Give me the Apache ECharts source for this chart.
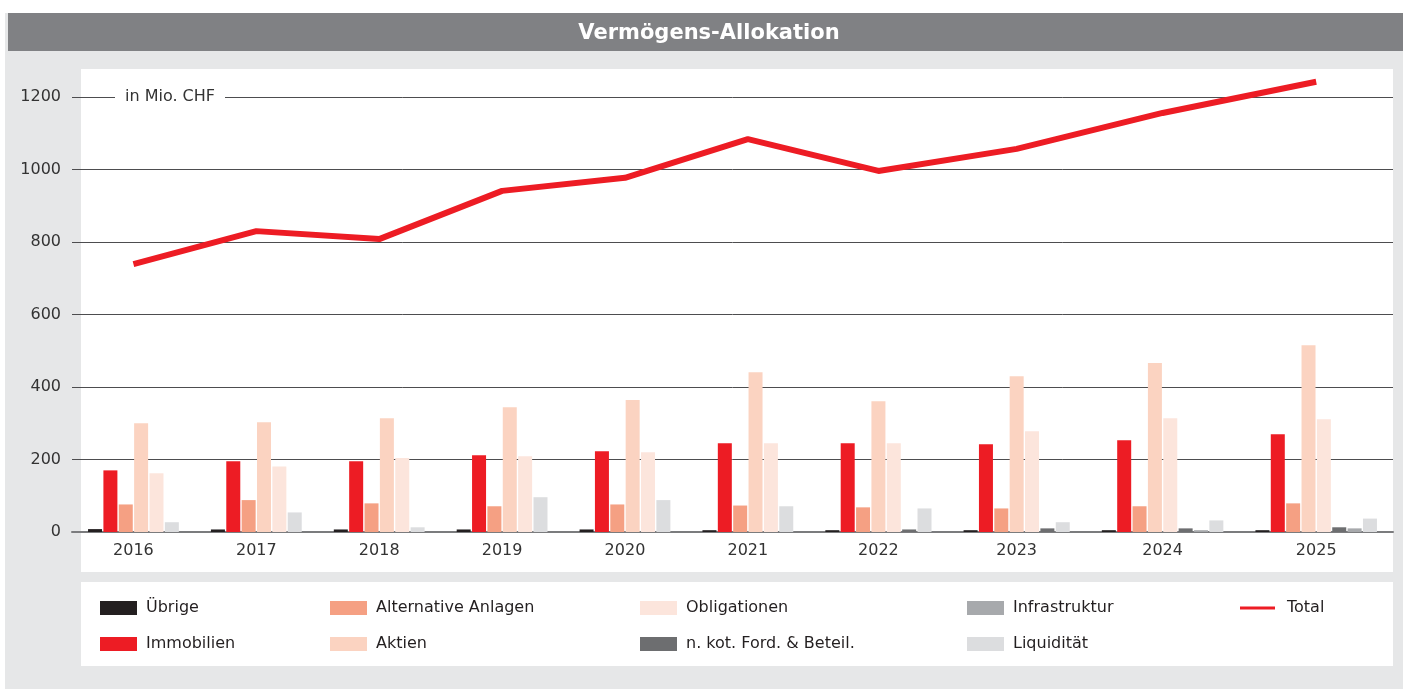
<!DOCTYPE html>
<html>
<head>
<meta charset="utf-8">
<title>Vermögens-Allokation</title>
<script src="https://cdn.jsdelivr.net/npm/echarts@6/dist/echarts.min.js"></script>
<style>
  html, body { margin: 0; padding: 0; background: #fff; }
  #chart { width: 1403px; height: 689px; }
</style>
</head>
<body>
<div id="chart"></div>
<script>
// values in Mio. CHF
const years = ['2016', '2017', '2018', '2019', '2020', '2021', '2022', '2023', '2024', '2025'];
const uebrige = [8, 7, 7, 7, 7, 5, 5, 5, 5, 5];
const immobilien = [170, 195, 195, 212, 223, 245, 245, 242, 253, 270];
const alternative = [76, 88, 79, 71, 76, 73, 68, 65, 71, 79];
const aktien = [300, 303, 314, 344, 364, 441, 361, 430, 466, 515];
const obligationen = [162, 181, 204, 209, 220, 245, 245, 278, 314, 311];
const nkot = [0, 0, 0, 0, 0, 0, 7, 10, 10, 13];
const infrastruktur = [0, 0, 0, 0, 0, 0, 0, 0, 5, 10];
const liquiditaet = [27, 54, 13, 96, 88, 71, 65, 27, 32, 37];
const total = [739, 830, 808, 941, 977, 1084, 996, 1057, 1156, 1242];

const barSeries = [
  { name: 'Übrige', values: uebrige, color: '#231f20' },
  { name: 'Immobilien', values: immobilien, color: '#ed1c24' },
  { name: 'Alternative Anlagen', values: alternative, color: '#f5a083' },
  { name: 'Aktien', values: aktien, color: '#fbd3c1' },
  { name: 'Obligationen', values: obligationen, color: '#fce5dc' },
  { name: 'n. kot. Ford. & Beteil.', values: nkot, color: '#6d6e70' },
  { name: 'Infrastruktur', values: infrastruktur, color: '#a7a9ac' },
  { name: 'Liquidität', values: liquiditaet, color: '#dcdddf' }
];

// empty categories take no room: every year group is as wide as its bars,
// groups are separated by a gap of 2 bar slots
const slots = barSeries.map(() => []);
const centers = [];
let pos = 1;
years.forEach((y, i) => {
  const start = pos;
  barSeries.forEach((s, k) => {
    if (s.values[i] > 0) {
      slots[k].push([pos + 0.5, s.values[i]]);
      pos += 1;
    }
  });
  centers.push((start + pos) / 2);
  pos += 2;
});
const xMax = pos - 1;

const font = '"DejaVu Sans", sans-serif';

const chart = echarts.init(document.getElementById('chart'));

const legendBase = {
  orient: 'vertical',
  icon: 'rect',
  itemWidth: 37,
  itemHeight: 14,
  itemGap: 20,
  top: 600,
  padding: 0,
  selectedMode: false,
  textStyle: { fontFamily: font, fontSize: 16, color: '#231f20', padding: [0, 0, 0, 4] }
};

chart.setOption({
  animation: false,
  grid: { left: 72, right: 10, top: 97, bottom: 157 },
  xAxis: {
    type: 'value',
    min: 0,
    max: xMax,
    interval: 0.5,
    axisLine: { show: true, onZero: true, lineStyle: { color: '#7b7c7e', width: 2 } },
    axisTick: { show: false },
    splitLine: { show: false },
    axisLabel: {
      margin: 11,
      fontFamily: font,
      fontSize: 16,
      color: '#333',
      formatter: v => {
        const i = centers.indexOf(v);
        return i >= 0 ? years[i] : '';
      }
    }
  },
  yAxis: {
    type: 'value',
    min: 0,
    max: 1200,
    interval: 200,
    axisLine: { show: false },
    axisTick: { show: false },
    axisLabel: { margin: 11, fontFamily: font, fontSize: 16, color: '#333', formatter: v => String(v) },
    splitLine: { lineStyle: { color: '#4d4d4f', width: 1 } }
  },
  legend: [
    Object.assign({}, legendBase, { left: 100, data: ['Übrige', 'Immobilien'] }),
    Object.assign({}, legendBase, { left: 330, data: ['Alternative Anlagen', 'Aktien'] }),
    Object.assign({}, legendBase, { left: 640, data: ['Obligationen', 'n. kot. Ford. & Beteil.'] }),
    Object.assign({}, legendBase, { left: 967, data: ['Infrastruktur', 'Liquidität'] }),
    Object.assign({}, legendBase, {
      left: 1240, itemWidth: 35, itemHeight: 3,
      textStyle: Object.assign({}, legendBase.textStyle, { padding: [0, 0, 0, 7] }),
      data: [{ name: 'Total', icon: 'rect' }]
    })
  ],
  graphic: [
    { type: 'rect', z: -10, shape: { x: 5, y: 13, width: 1398, height: 676 }, style: { fill: '#e6e7e8' } },
    { type: 'rect', z: -9, shape: { x: 8, y: 13, width: 1395, height: 38 }, style: { fill: '#808184' } },
    { type: 'rect', z: -9, shape: { x: 81, y: 69, width: 1312, height: 503 }, style: { fill: '#fff' } },
    { type: 'rect', z: -9, shape: { x: 81, y: 582, width: 1312, height: 84 }, style: { fill: '#fff' } },
    {
      type: 'text', z: 5, x: 709, y: 34,
      style: {
        text: 'Vermögens-Allokation', fill: '#fff', font: 'bold 21px ' + font,
        textAlign: 'center', textVerticalAlign: 'middle'
      }
    },
    {
      type: 'text', z: 100, x: 115, y: 97,
      style: {
        text: 'in Mio. CHF', fill: '#333', font: '16px ' + font,
        textAlign: 'left', textVerticalAlign: 'middle',
        backgroundColor: '#fff', padding: [3, 10, 3, 10]
      }
    }
  ],
  series: barSeries.map((s, k) => ({
    name: s.name,
    type: 'bar',
    data: slots[k],
    barWidth: 14,
    barGap: '-100%',
    itemStyle: { color: s.color }
  })).concat([{
    name: 'Total',
    type: 'line',
    data: centers.map((c, i) => [c, total[i]]),
    symbol: 'none',
    clip: false,
    z: 10,
    itemStyle: { color: '#ed1c24' },
    lineStyle: { color: '#ed1c24', width: 6 }
  }])
});
</script>
</body>
</html>
